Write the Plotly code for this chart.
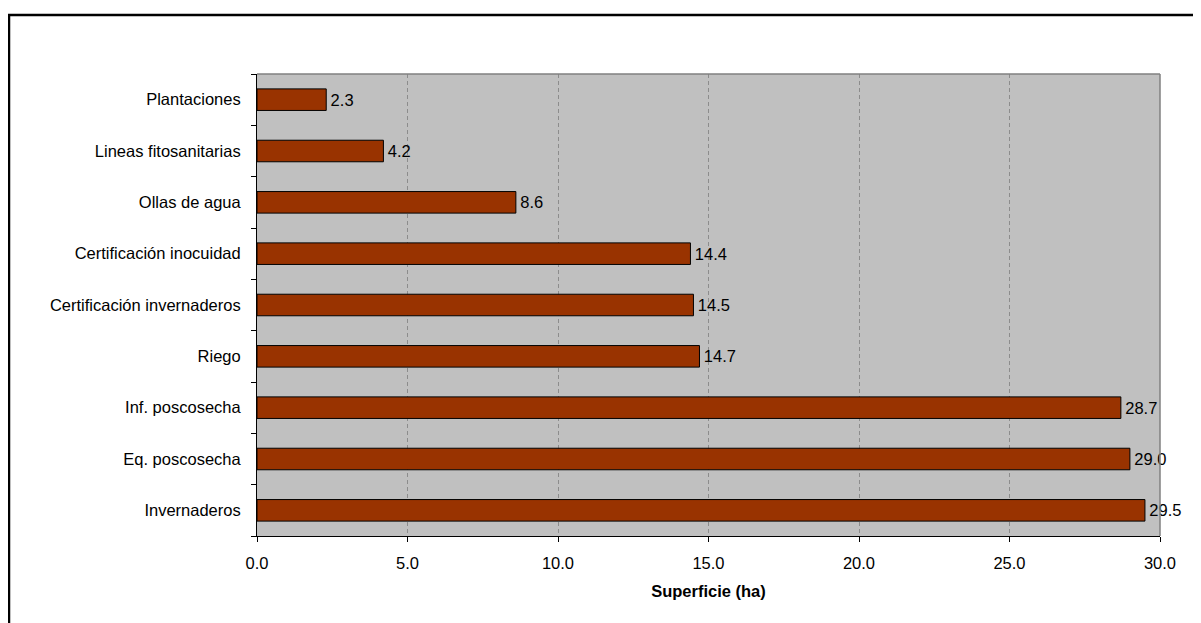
import plotly.graph_objects as go

categories = ["Plantaciones", "Lineas fitosanitarias", "Ollas de agua",
              "Certificación inocuidad", "Certificación invernaderos", "Riego",
              "Inf. poscosecha", "Eq. poscosecha", "Invernaderos"]
values = [2.3, 4.2, 8.6, 14.4, 14.5, 14.7, 28.7, 29.0, 29.5]
x_title = "Superficie (ha)"

# page body has an 8px margin, so the figure is 8px smaller than the window
OFF = 8
W, H = 1201 - OFF, 623 - OFF
L, T = 257 - OFF, 74 - OFF
R = W - (1160 - OFF)
B = H - (536 - OFF)
pw, ph = W - L - R, H - T - B

FONT = "Arial, Liberation Sans, sans-serif"

fig = go.Figure(go.Bar(
    x=values, y=categories, orientation="h",
    marker=dict(color="#993300", line=dict(color="black", width=1)),
    width=0.42,
    text=values, texttemplate="\u200a%{x:.1f}", textposition="outside",
    textfont=dict(family=FONT, size=16.5, color="black"),
    constraintext="none", cliponaxis=False,
))

def px_x(p):
    return (p - OFF - L) / pw

def px_y(p):
    return (H - B - (p - OFF)) / ph

fig.update_layout(
    width=W, height=H,
    margin=dict(l=L, r=R, t=T, b=B, autoexpand=False),
    paper_bgcolor="white", plot_bgcolor="#C0C0C0",
    font=dict(family=FONT, size=16.5, color="black"),
    showlegend=False,
    xaxis=dict(range=[0, 30], dtick=5, tickformat=".1f",
               showgrid=True, gridcolor="#8c8c8c", griddash="4px,3px", gridwidth=1,
               showline=True, linecolor="black", linewidth=1,
               ticks="outside", ticklen=5, tickcolor="black",
               zeroline=False, ticklabelstandoff=7,
               title=dict(text="<b>" + x_title + "</b>", standoff=14,
                          font=dict(family=FONT, size=16.5))),
    yaxis=dict(categoryorder="array", categoryarray=categories[::-1],
               autorange=False, range=[-0.5, len(categories) - 0.5],
               tickson="boundaries", ticks="outside", ticklen=5, tickcolor="black",
               showline=True, linecolor="black", linewidth=1,
               showgrid=False, zeroline=False, ticklabelstandoff=12),
    shapes=[
        dict(type="line", xref="paper", yref="paper", x0=0, x1=1, y0=1, y1=1,
             line=dict(color="#808080", width=1.5), layer="above"),
        dict(type="line", xref="paper", yref="paper", x0=1, x1=1, y0=0, y1=1,
             line=dict(color="#808080", width=1.5), layer="above"),
        dict(type="path", xref="paper", yref="paper",
             path=f"M {px_x(9)} {px_y(640)} L {px_x(9)} {px_y(15)} L {px_x(1215)} {px_y(15)}",
             line=dict(color="black", width=2.5), layer="above"),
    ],
)

fig.write_html("out.html")
